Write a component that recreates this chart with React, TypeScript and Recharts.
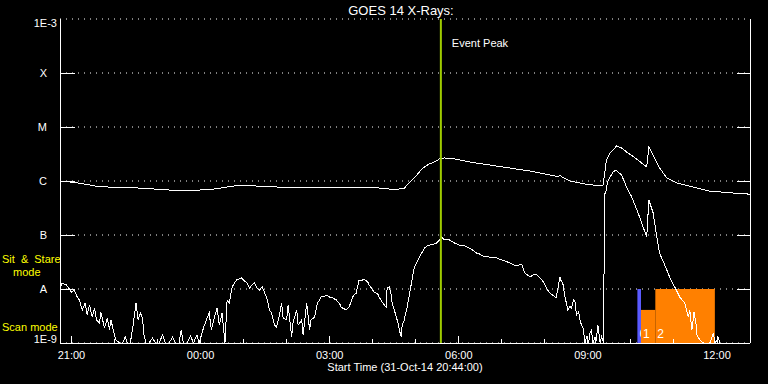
import React from "react";
import {
  LineChart,
  Line,
  XAxis,
  YAxis,
  CartesianGrid,
  ReferenceLine,
  ReferenceArea,
} from "recharts";

// x values are minutes after the start time (31-Oct-14 20:44:00)
const longMinutes = [
  0, 13, 24, 34, 48, 69, 111, 152, 194, 215, 243, 271, 306, 334, 376, 403, 431, 445, 459, 473,
  480, 487, 494, 501, 508, 515, 522, 529, 536, 550, 571, 599, 627, 655, 676, 690, 694, 697, 700,
  711, 732, 753, 757, 760, 762, 767, 776, 783, 790, 802, 811, 818, 821, 829, 836, 846, 860, 883,
  906, 938, 962,
];
const longFlux = [
  1.0e-6, 9.6e-7, 9.2e-7, 8.8e-7, 8.1e-7, 7.7e-7, 7.4e-7, 6.8e-7, 6.8e-7, 7.1e-7, 8.1e-7, 8.1e-7,
  7.7e-7, 7.5e-7, 7.5e-7, 7.7e-7, 7.7e-7, 7.4e-7, 7.1e-7, 7.1e-7, 7.4e-7, 9.2e-7, 1.14e-6,
  1.47e-6, 1.82e-6, 2.07e-6, 2.25e-6, 2.56e-6, 2.67e-6, 2.56e-6, 2.25e-6, 1.98e-6, 1.74e-6,
  1.53e-6, 1.35e-6, 1.24e-6, 1.19e-6, 1.28e-6, 1.19e-6, 1.0e-6, 8.8e-7, 8.1e-7, 8.4e-7, 1.6e-6,
  2.5e-6, 3.3e-6, 4.45e-6, 4.08e-6, 3.44e-6, 2.67e-6, 2.15e-6, 1.82e-6, 4.26e-6, 2.67e-6,
  1.74e-6, 1.14e-6, 9.2e-7, 7.7e-7, 6.5e-7, 6.0e-7, 5.7e-7,
];

const shortMinutes = [
  0, 3, 9, 16, 20, 24, 27, 31, 35, 38, 41, 45, 48, 51, 55, 57, 62, 66, 69, 71, 76, 78, 83, 87, 91,
  94, 98, 102, 106, 109, 112, 115, 117, 120, 124, 129, 133, 138, 143, 147, 152, 157, 161, 166,
  169, 172, 177, 182, 186, 191, 194, 200, 204, 208, 211, 215, 219, 222, 226, 230, 233, 236, 240,
  246, 253, 257, 261, 264, 268, 271, 275, 278, 282, 285, 289, 292, 295, 299, 302, 306, 309, 311,
  316, 318, 323, 325, 330, 332, 337, 339, 344, 348, 350, 355, 359, 362, 364, 369, 371, 376, 378,
  383, 385, 390, 392, 396, 399, 403, 408, 410, 413, 417, 420, 424, 429, 431, 436, 438, 443, 445,
  450, 452, 455, 456, 459, 462, 463, 466, 469, 472, 473, 476, 477, 480, 482, 484, 487, 490, 494,
  498, 501, 505, 508, 512, 515, 521, 525, 529, 532, 536, 540, 543, 550, 557, 564, 571, 577, 581,
  585, 589, 599, 609, 616, 623, 630, 637, 641, 644, 648, 652, 655, 660, 665, 669, 673, 676, 680,
  683, 687, 690, 692, 697, 698, 701, 704, 706, 708, 711, 713, 716, 718, 720, 723, 725, 727, 729,
  732, 734, 737, 739, 741, 743, 746, 747, 750, 753, 755, 758, 759, 762, 763, 767, 771, 775, 778,
  783, 790, 797, 806, 813, 818, 821, 827, 832, 836, 843, 850, 857, 864, 871, 876, 878, 881, 884,
  887, 888, 892, 897, 906, 911, 913, 918, 920, 934, 948, 962,
];
const shortFlux = [
  1.04e-8, 1.29e-8, 1.19e-8, 8.8e-9, 9.6e-9, 7.1e-9, 6.3e-9, 4.1e-9, 5.5e-9, 3.3e-9, 5.1e-9,
  3.0e-9, 4.45e-9, 2.67e-9, 2.35e-9, 3.75e-9, 1.9e-9, 2.9e-9, 1.74e-9, 2.67e-9, 1.41e-9,
  1.14e-9, 1e-9, 1e-9, 1.29e-9, 1e-9, 1e-9, 2.15e-9, 5.5e-9, 2.67e-9, 3.6e-9, 2.9e-9, 1.41e-9,
  1e-9, 1e-9, 1.24e-9, 1e-9, 1e-9, 1.41e-9, 1e-9, 1e-9, 1.29e-9, 1e-9, 1e-9, 1.74e-9, 1e-9,
  1e-9, 1.35e-9, 1e-9, 1.41e-9, 1e-9, 1.9e-9, 2.67e-9, 3.6e-9, 1.74e-9, 2.9e-9, 4.45e-9,
  2.15e-9, 3.6e-9, 1e-9, 6.3e-9, 5.5e-9, 1.09e-8, 1.47e-8, 1.6e-8, 1.41e-8, 1.29e-8, 1.04e-8,
  1.19e-8, 1.29e-8, 1.04e-8, 9.6e-9, 1.09e-8, 8.8e-9, 6.3e-9, 4.1e-9, 3.6e-9, 2.15e-9, 1.98e-9,
  3.3e-9, 5.5e-9, 2.9e-9, 2.67e-9, 5.1e-9, 1.29e-9, 2.45e-9, 4.1e-9, 2.15e-9, 2.67e-9, 1.41e-9,
  5.5e-9, 1.74e-9, 2.67e-9, 3.0e-9, 5.5e-9, 6.3e-9, 7.1e-9, 7.4e-9, 7.7e-9, 7.1e-9, 7.1e-9,
  6.5e-9, 6.3e-9, 5.3e-9, 4.6e-9, 4.3e-9, 4.1e-9, 4.6e-9, 7.1e-9, 7.7e-9, 8.4e-9, 1.47e-8,
  1.41e-8, 1.53e-8, 1.35e-8, 1.19e-8, 9.6e-9, 8.8e-9, 8.1e-9, 7.1e-9, 5.5e-9, 5.1e-9, 4.6e-9,
  1.04e-8, 1.09e-8, 7.7e-9, 5.5e-9, 4.1e-9, 3.0e-9, 2.15e-9, 1.74e-9, 1.29e-9, 2.15e-9, 2.67e-9,
  3.6e-9, 4.6e-9, 7.7e-9, 1.29e-8, 2.55e-8, 3.2e-8, 3.9e-8, 4.8e-8, 5.7e-8, 6.3e-8, 6.5e-8,
  6.8e-8, 7.1e-8, 8.1e-8, 9.2e-8, 8.1e-8, 8.4e-8, 8.1e-8, 7.1e-8, 6.5e-8, 6.3e-8, 5.7e-8,
  5.1e-8, 4.6e-8, 4.45e-8, 4.1e-8, 3.9e-8, 3.75e-8, 3.45e-8, 3.2e-8, 2.9e-8, 2.67e-8, 2.8e-8,
  2.8e-8, 1.98e-8, 1.82e-8, 1.67e-8, 1.82e-8, 1.82e-8, 1.6e-8, 1.41e-8, 1.19e-8, 9.6e-9, 8.4e-9,
  7.7e-9, 7.1e-9, 7.1e-9, 1.67e-8, 1.47e-8, 1.29e-8, 7.1e-9, 5.5e-9, 4.1e-9, 4.8e-9, 4.45e-9,
  6.3e-9, 5.7e-9, 3.3e-9, 3.75e-9, 2.67e-9, 2.15e-9, 1.98e-9, 1e-9, 1.29e-9, 1e-9, 1.53e-9,
  1.74e-9, 1e-9, 1.29e-9, 1e-9, 2.15e-9, 1e-9, 1.29e-9, 1e-9, 5.5e-7, 6.8e-7, 9.2e-7, 1.19e-6,
  1.47e-6, 1.6e-6, 1.47e-6, 1.29e-6, 7.7e-7, 5.1e-7, 2.55e-7, 1.41e-7, 9.2e-8, 4.45e-7, 2.55e-7,
  9.2e-8, 4.6e-8, 2.8e-8, 1.67e-8, 1.09e-8, 7.1e-9, 5.5e-9, 3.0e-9, 4.1e-9, 1.74e-9, 3.75e-9,
  2.15e-9, 1.41e-9, 1.14e-9, 1e-9, 1e-9, 1.53e-9, 1e-9, 1.24e-9, 1e-9, 1e-9, 1e-9, 1e-9,
];

const hourTicks = [16, 76, 136, 196, 256, 316, 376, 436, 496, 556, 616, 676, 736, 796, 856, 916];
const labelTicks = [16, 196, 376, 556, 736, 916];
const xTickLabels = ["21:00", "00:00", "03:00", "06:00", "09:00", "12:00"];

const fluxLevels = [1e-9, 1e-8, 1e-7, 1e-6, 1e-5, 1e-4, 1e-3];
const levelLabels = ["1E-9", "A", "B", "C", "M", "X", "1E-3"];

const eventPeak = 531;

// instrument mode segments along the bottom
const modeStart = [805, 810, 830];
const modeEnd = [810, 830, 913];
const modeTop = [1e-8, 4.1e-9, 1e-8];
const modeNames = ["0", "1", "2"];
const modeColors = ["#5a5aff", "#ff8000", "#ff8000"];

const FONT = "'Liberation Sans', Arial, sans-serif";

const longData = longMinutes.map((m, i) => ({ m, flux: longFlux[i] }));
const shortData = shortMinutes.map((m, i) => ({ m, flux: shortFlux[i] }));

function BottomTick({ x, y, payload }: any) {
  const i = labelTicks.indexOf(payload.value);
  const major = i >= 0;
  return (
    <g>
      <line x1={x} x2={x} y1={y} y2={y - (major ? 7 : 4)} stroke="#fff" shapeRendering="crispEdges" />
      {major && (
        <text x={x} y={y + 16} textAnchor="middle" fill="#fff" fontSize={11} fontFamily={FONT}>
          {xTickLabels[i]}
        </text>
      )}
    </g>
  );
}

function TopTick({ x, y, payload }: any) {
  const major = labelTicks.includes(payload.value);
  return <line x1={x} x2={x} y1={y} y2={y + (major ? 7 : 4)} stroke="#fff" shapeRendering="crispEdges" />;
}

function LeftTick({ x, y, payload }: any) {
  const i = fluxLevels.indexOf(payload.value);
  const edge = i === 0 || i === fluxLevels.length - 1;
  let ty = y + 4;
  if (i === 0) ty = y;
  if (i === fluxLevels.length - 1) ty = y + 8;
  return (
    <g>
      {!edge && <line x1={x} x2={x + 15} y1={y} y2={y} stroke="#fff" shapeRendering="crispEdges" />}
      <text
        x={edge ? x - 3 : x - 13}
        y={ty}
        textAnchor="end"
        fill="#fff"
        fontSize={11}
        fontFamily={FONT}
      >
        {levelLabels[i]}
      </text>
    </g>
  );
}

function RightTick({ x, y, payload }: any) {
  const i = fluxLevels.indexOf(payload.value);
  if (i === 0 || i === fluxLevels.length - 1) return <g />;
  return <line x1={x - 13} x2={x} y1={y} y2={y} stroke="#fff" shapeRendering="crispEdges" />;
}

export default function App() {
  const axisLine = { stroke: "#fff", shapeRendering: "crispEdges" } as any;
  return (
    <div style={{ position: "fixed", left: 0, top: 0, width: 768, height: 384, background: "#000" }}>
      <LineChart width={768} height={384} data={longData} margin={{ top: 19, right: 0, bottom: 0, left: 0 }}>
        <CartesianGrid vertical={false} stroke="#fff" strokeDasharray="1 5" />
        <XAxis
          dataKey="m"
          type="number"
          domain={[0, 962]}
          ticks={hourTicks}
          interval={0}
          allowDataOverflow
          height={41}
          tickSize={0}
          tickMargin={0}
          axisLine={axisLine}
          tickLine={false}
          tick={<BottomTick />}
        />
        <XAxis
          xAxisId="top"
          orientation="top"
          dataKey="m"
          type="number"
          domain={[0, 962]}
          ticks={hourTicks}
          interval={0}
          allowDataOverflow
          height={0}
          tickSize={0}
          tickMargin={0}
          axisLine={axisLine}
          tickLine={false}
          tick={<TopTick />}
        />
        <YAxis
          scale="log"
          domain={[1e-9, 1e-3]}
          ticks={fluxLevels}
          interval={0}
          allowDataOverflow
          width={60}
          tickSize={0}
          tickMargin={0}
          axisLine={axisLine}
          tickLine={false}
          tick={<LeftTick />}
        />
        <YAxis
          yAxisId="right"
          orientation="right"
          scale="log"
          domain={[1e-9, 1e-3]}
          ticks={fluxLevels}
          interval={0}
          allowDataOverflow
          width={18}
          tickSize={0}
          tickMargin={0}
          axisLine={axisLine}
          tickLine={false}
          tick={<RightTick />}
        />
        {modeStart.map((s, i) => (
          <ReferenceArea
            key={i}
            x1={s}
            x2={modeEnd[i]}
            y1={1e-9}
            y2={modeTop[i]}
            fill={modeColors[i]}
            fillOpacity={1}
            stroke="none"
            label={(p: any) => (
              <text
                x={p.viewBox.x + 2}
                y={p.viewBox.y + p.viewBox.height - 5}
                fill="#fff"
                fontSize={12}
                fontFamily={FONT}
              >
                {modeNames[i]}
              </text>
            )}
          />
        ))}
        <Line
          data={longData}
          dataKey="flux"
          type="linear"
          stroke="#fff"
          strokeWidth={1}
          dot={false}
          isAnimationActive={false}
          shapeRendering="crispEdges"
        />
        <Line
          data={shortData}
          dataKey="flux"
          type="linear"
          stroke="#fff"
          strokeWidth={1}
          dot={false}
          isAnimationActive={false}
          shapeRendering="crispEdges"
        />
        <ReferenceLine
          x={eventPeak}
          stroke="#9fcc00"
          strokeWidth={2}
          label={(p: any) => (
            <text x={p.viewBox.x + 11} y={p.viewBox.y + 28} fill="#fff" fontSize={11} fontFamily={FONT}>
              Event Peak
            </text>
          )}
        />
      </LineChart>
      <svg
        width={768}
        height={384}
        style={{ position: "absolute", left: 0, top: 0, pointerEvents: "none" }}
        fontFamily={FONT}
      >
        <text x={401} y={15} textAnchor="middle" fill="#fff" fontSize={13}>
          GOES 14 X-Rays:
        </text>
        <text x={405} y={371} textAnchor="middle" fill="#fff" fontSize={11}>
          Start Time (31-Oct-14 20:44:00)
        </text>
        <text x={2} y={263} fill="#ffff00" fontSize={11} wordSpacing={3}>
          Sit &amp; Stare
        </text>
        <text x={13} y={276} fill="#ffff00" fontSize={11}>
          mode
        </text>
        <text x={2} y={331} fill="#ffff00" fontSize={11}>
          Scan mode
        </text>
      </svg>
    </div>
  );
}
